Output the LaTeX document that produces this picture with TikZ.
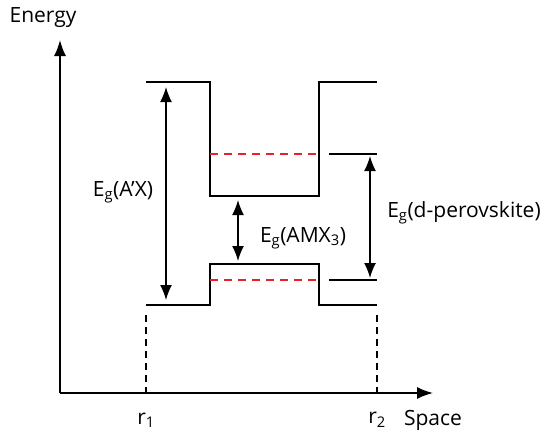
\documentclass[tikz,border=0pt]{standalone}
\usepackage{fontspec}
\setmainfont{Open Sans}
\usepackage{tikz}
\usetikzlibrary{arrows.meta,positioning,calc}
\definecolor{leveldash}{RGB}{232,32,42}

\begin{document}
\begin{tikzpicture}[x=1pt,y=-1pt,
  band/.style={line width=2.7pt,line join=miter},
  axis/.style={line width=1.6pt,-{Latex[length=16pt,width=12pt]}},
  gap/.style={line width=1.5pt,{Latex[length=15pt,width=12pt]}-{Latex[length=15pt,width=12pt]}},
  redlevel/.style={line width=1.6pt,draw=leveldash,dash pattern=on 8pt off 6pt},
  edge/.style={line width=1.4pt},
  guide/.style={line width=1.6pt,dash pattern=on 7pt off 5pt},
  lab/.style={font=\fontsize{21}{25}\selectfont,inner sep=1pt}
]
\useasboundingbox (0,0) rectangle (548,432);
% axes
\coordinate (o) at (60,393);
\coordinate (ytop) at (60,40);
\coordinate (xend) at (433,393);
\draw[axis] (o) -- (ytop);
\draw[axis] (o) -- (xend);
\node[lab] (energy) at (43,18) {Energy};
\node[lab] (space) at (433,420) {Space};
\node[lab] (r1) at (146,420) {r\textsubscript{1}};
\node[lab] (r2) at (377,420) {r\textsubscript{2}};
% band profile
\draw[band] (146,82) -- (210,82) -- (210,196) -- (319,196) -- (319,82) -- (377,82);
\draw[band] (146,305) -- (210,305) -- (210,264) -- (319,264) -- (319,305) -- (377,305);
% levels of the d-perovskite
\draw[redlevel] (210,154) -- (319,154);
\draw[redlevel] (210,280) -- (319,280);
\draw[edge] (329,154) -- (377,154);
\draw[edge] (329,280) -- (377,280);
% gaps
\coordinate (a1) at (166,87);
\coordinate (a2) at (166,300);
\coordinate (b1) at (238,200);
\coordinate (b2) at (238,261);
\coordinate (c1) at (370,156);
\coordinate (c2) at (370,278);
\draw[gap] (a1) -- (a2);
\draw[gap] (b1) -- (b2);
\draw[gap] (c1) -- (c2);
\node[lab] (egax) at (123,192) {E\textsubscript{g}(A’X)};
\node[lab] (egamx) at (303,238) {E\textsubscript{g}(AMX\textsubscript{3})};
\node[lab] (egd) at (464,213) {E\textsubscript{g}(d-perovskite)};
% r1, r2 guides
\coordinate (g1) at (146,315);
\coordinate (g2) at (377,315);
\draw[guide] (g1) -- (g1 |- o);
\draw[guide] (g2) -- (g2 |- o);
\end{tikzpicture}
\end{document}
